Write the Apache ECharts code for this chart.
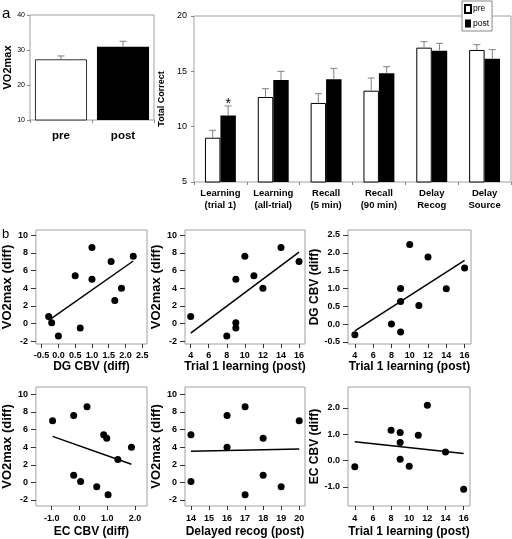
<!DOCTYPE html>
<html><head><meta charset="utf-8">
<script src="https://cdn.jsdelivr.net/npm/echarts@6/dist/echarts.min.js"></script>
<style>html,body{margin:0;padding:0;background:#fff}#c{width:512px;height:539px}</style>
</head><body><div id="c"></div><script>
// ---------- Data ----------
const vo2Groups = ['pre', 'post'];
const vo2Means = [27.35, 30.95];
const vo2ErrTop = [28.3, 32.5];

const memCategories = ['Learning\n(trial 1)', 'Learning\n(all-trial)', 'Recall\n(5 min)', 'Recall\n(90 min)', 'Delay\nRecog', 'Delay\nSource'];
const memPre = [9.0, 12.68, 12.14, 13.25, 17.14, 16.93];
const memPreErrTop = [9.67, 13.43, 12.98, 14.4, 17.68, 17.41];
const memPost = [11.02, 14.22, 14.28, 14.82, 16.87, 16.14];
const memPostErrTop = [11.87, 15.0, 15.27, 15.42, 17.53, 16.96];
const memSignif = ['*', '', '', '', '', ''];

const dgCbvDiff = [-0.29, -0.2, 0.0, 0.5, 0.65, 1.0, 1.0, 1.57, 1.68, 1.88, 2.23];
const vo2DiffByDg = [0.8, 0.1, -1.4, 5.4, -0.5, 8.6, 5.0, 7.0, 2.6, 4.0, 7.6];

const trial1Post = [4, 8, 9, 9, 9, 10, 11, 12, 14, 16];
const vo2DiffByTrial1 = [0.8, -1.4, 5.0, 0.1, -0.5, 7.6, 5.4, 4.0, 8.6, 7.0];
const dgCbvByTrial1 = [-0.3, 0.0, -0.22, 0.63, 1.0, 2.23, 0.52, 1.88, 0.99, 1.57];

const ecCbvDiff = [-0.97, -0.21, 0.27, -0.21, 0.04, 0.87, 0.98, 0.62, 1.03, 1.38, 1.87];
const vo2DiffByEc = [7.0, 7.6, 8.6, 0.8, 0.1, 5.4, 5.0, -0.5, -1.4, 2.6, 4.0];

const delayedRecogPost = [14, 14, 16, 16, 17, 17, 18, 18, 19, 20];
const vo2DiffByRecog = [5.4, 0.1, 7.6, 4.0, 8.6, -1.4, 5.0, 0.8, -0.5, 7.0];

const ecCbvByTrial1 = [-0.24, 1.15, 1.06, 0.68, 0.05, -0.22, 0.96, 2.1, 0.32, -1.09];

const ticksVo2 = [-2, 0, 2, 4, 6, 8, 10];
const ticksDg = [-0.5, 0, 0.5, 1, 1.5, 2, 2.5];
const ticksTrial = [4, 6, 8, 10, 12, 14, 16];
const ticksEc = [-1, 0, 1, 2];
const ticksRecog = [14, 15, 16, 17, 18, 19, 20];

// ---------- Styling ----------
const SANS = "'Liberation Sans', Arial, sans-serif";
const FRAME = '#a0a0a0';
const TICK = '#333';

const grids = [], xAxes = [], yAxes = [], series = [];

function linFit(xs, ys) {
  const n = xs.length;
  const mx = xs.reduce((a, b) => a + b, 0) / n, my = ys.reduce((a, b) => a + b, 0) / n;
  let sxy = 0, sxx = 0;
  for (let i = 0; i < n; i++) { sxy += (xs[i] - mx) * (ys[i] - my); sxx += (xs[i] - mx) * (xs[i] - mx); }
  const b = sxy / sxx, a = my - b * mx;
  const x0 = Math.min(...xs), x1 = Math.max(...xs);
  return [[x0, a + b * x0], [x1, a + b * x1]];
}

function errorSeries(axisIdx, means, tops, offsetFrac, marks) {
  return {
    type: 'custom', xAxisIndex: axisIdx, yAxisIndex: axisIdx, z: 5, silent: true,
    data: means.map((m, i) => [i, m, tops[i]]),
    renderItem(params, api) {
      const c = api.coord([api.value(0), api.value(1)]);
      const t = api.coord([api.value(0), api.value(2)]);
      const bw = api.size([1, 0])[0];
      const x = c[0] + bw * offsetFrac;
      const cap = 3.5;
      const st = { stroke: '#808080', lineWidth: 1 };
      const children = [
        { type: 'line', shape: { x1: x, y1: c[1], x2: x, y2: t[1] }, style: st },
        { type: 'line', shape: { x1: x - cap, y1: t[1], x2: x + cap, y2: t[1] }, style: st }
      ];
      const mk = marks ? marks[params.dataIndex] : '';
      if (mk) children.push({ type: 'text', x: x, y: t[1] - 2, style: { text: mk, fontSize: 14, fontFamily: SANS, align: 'center', verticalAlign: 'middle', fill: '#000' } });
      return { type: 'group', children };
    }
  };
}

function makeAxis(gi, dir, c) {
  return {
    type: 'value', gridIndex: gi, min: c.min, max: c.max,
    position: dir === 'x' ? 'bottom' : 'left',
    splitLine: { show: false }, axisLine: { show: false, onZero: false },
    axisTick: { show: true, length: dir === 'x' ? 4 : 5, lineStyle: { color: TICK }, customValues: c.ticks },
    axisLabel: {
      customValues: c.ticks, formatter: v => c.dec ? v.toFixed(c.dec) : String(v),
      fontSize: 9, fontWeight: 'bold', fontFamily: SANS, color: '#000', margin: c.margin
    },
    name: c.name, nameLocation: 'middle', nameGap: c.nameGap,
    nameTextStyle: dir === 'x'
      ? { fontSize: 12, fontWeight: 'bold', fontFamily: SANS, color: '#000' }
      : { fontSize: c.nameSize || 12.5, fontWeight: 'bold', fontFamily: SANS, color: '#000' }
  };
}

function addScatter(box, xs, ys, xc, yc) {
  const gi = grids.length;
  grids.push(Object.assign({ show: true, borderColor: FRAME, borderWidth: 1, backgroundColor: '#fff' }, box));
  xAxes.push(makeAxis(gi, 'x', xc));
  yAxes.push(makeAxis(gi, 'y', yc));
  const idx = xAxes.length - 1;
  series.push({ type: 'line', xAxisIndex: idx, yAxisIndex: idx, symbol: 'none', silent: true,
    lineStyle: { color: '#000', width: 1.5 }, data: linFit(xs, ys), z: 2 });
  series.push({ type: 'scatter', xAxisIndex: idx, yAxisIndex: idx, symbolSize: 7, silent: true,
    itemStyle: { color: '#000', opacity: 1 }, data: xs.map((x, i) => [x, ys[i]]), z: 3 });
}

// ---------- Panel a (left): VO2max ----------
grids.push({ left: 30, top: 15, width: 124, height: 105, show: true, borderColor: FRAME, borderWidth: 1 });
xAxes.push({ type: 'category', gridIndex: 0, data: vo2Groups, axisLine: { show: false, onZero: false },
  axisTick: { show: true, length: 3, lineStyle: { color: '#888' } },
  axisLabel: { fontSize: 11.5, fontWeight: 'bold', fontFamily: SANS, color: '#000', margin: 10 } });
yAxes.push({ type: 'value', gridIndex: 0, min: 10, max: 40, interval: 10, splitLine: { show: false },
  axisLine: { show: false, onZero: false }, axisTick: { show: true, length: 3, lineStyle: { color: '#888' } },
  axisLabel: { fontSize: 7, fontFamily: SANS, color: '#000', margin: 5 },
  name: 'VO2max', nameLocation: 'middle', nameGap: 17,
  nameTextStyle: { fontSize: 11, fontWeight: 'bold', fontFamily: SANS, color: '#000' } });
const vo2Styles = [{ color: '#fff', borderColor: '#333', borderWidth: 1 }, { color: '#000' }];
series.push({ type: 'bar', name: 'VO2max', xAxisIndex: 0, yAxisIndex: 0, barCategoryGap: '16%', silent: true,
  data: vo2Means.map((v, i) => ({ value: v, itemStyle: vo2Styles[i] })) });
series.push(errorSeries(0, vo2Means, vo2ErrTop, 0, null));

// ---------- Panel a (right): memory ----------
grids.push({ left: 194, top: 16, width: 317, height: 166, show: true, borderColor: FRAME, borderWidth: 1 });
xAxes.push({ type: 'category', gridIndex: 1, data: memCategories, axisLine: { show: false, onZero: false },
  axisTick: { show: true, length: 3, lineStyle: { color: '#888' } },
  axisLabel: { fontSize: 9.5, fontWeight: 'bold', fontFamily: SANS, color: '#000', margin: 5, lineHeight: 12.5, interval: 0 } });
yAxes.push({ type: 'value', gridIndex: 1, min: 5, max: 20, interval: 5, splitLine: { show: false },
  axisLine: { show: false, onZero: false }, axisTick: { show: true, length: 3, lineStyle: { color: '#888' } },
  axisLabel: { fontSize: 9, fontFamily: SANS, color: '#000', margin: 7 },
  name: 'Total Correct', nameLocation: 'middle', nameGap: 20,
  nameTextStyle: { fontSize: 9, fontWeight: 'bold', fontFamily: SANS, color: '#000' } });
const GAP = 0.415;
series.push({ type: 'bar', name: 'pre', xAxisIndex: 1, yAxisIndex: 1, barGap: '0%', barCategoryGap: (GAP * 100) + '%', silent: true,
  itemStyle: { color: '#fff', borderColor: '#000', borderWidth: 1 }, data: memPre });
series.push({ type: 'bar', name: 'post', xAxisIndex: 1, yAxisIndex: 1, barGap: '0%', barCategoryGap: (GAP * 100) + '%', silent: true,
  itemStyle: { color: '#000' }, data: memPost });
series.push(errorSeries(1, memPre, memPreErrTop, -(1 - GAP) / 4, null));
series.push(errorSeries(1, memPost, memPostErrTop, (1 - GAP) / 4, memSignif));

// ---------- Panel b: scatter plots ----------
addScatter({ left: 29, top: 230, width: 118, height: 114 }, dgCbvDiff, vo2DiffByDg,
  { min: -0.67, max: 2.64, ticks: ticksDg, dec: 1, margin: 7, name: 'DG CBV (diff)', nameGap: 17 },
  { min: -2.3, max: 10.57, ticks: ticksVo2, dec: 0, margin: 8, name: 'VO2max (diff)', nameGap: 15.5, nameSize: 13 });
addScatter({ left: 185, top: 230, width: 120, height: 114 }, trial1Post, vo2DiffByTrial1,
  { min: 3.37, max: 16.66, ticks: ticksTrial, dec: 0, margin: 7, name: 'Trial 1 learning (post)', nameGap: 17 },
  { min: -2.3, max: 10.57, ticks: ticksVo2, dec: 0, margin: 8, name: 'VO2max (diff)', nameGap: 15, nameSize: 13 });
addScatter({ left: 348, top: 230, width: 123, height: 114 }, trial1Post, dgCbvByTrial1,
  { min: 3.25, max: 16.7, ticks: ticksTrial, dec: 0, margin: 7, name: 'Trial 1 learning (post)', nameGap: 17 },
  { min: -0.56, max: 2.64, ticks: ticksDg, dec: 1, margin: 8, name: 'DG CBV (diff)', nameGap: 20.5, nameSize: 12 });
addScatter({ left: 29, top: 387, width: 118, height: 119 }, ecCbvDiff, vo2DiffByEc,
  { min: -1.57, max: 2.43, ticks: ticksEc, dec: 1, margin: 8, name: 'EC CBV (diff)', nameGap: 20 },
  { min: -2.68, max: 10.83, ticks: ticksVo2, dec: 0, margin: 8, name: 'VO2max (diff)', nameGap: 16, nameSize: 13 });
addScatter({ left: 185, top: 387, width: 120, height: 119 }, delayedRecogPost, vo2DiffByRecog,
  { min: 13.67, max: 20.32, ticks: ticksRecog, dec: 0, margin: 8, name: 'Delayed recog (post)', nameGap: 20 },
  { min: -2.68, max: 10.83, ticks: ticksVo2, dec: 0, margin: 8, name: 'VO2max (diff)', nameGap: 15, nameSize: 13 });
addScatter({ left: 348, top: 387, width: 122, height: 119 }, trial1Post, ecCbvByTrial1,
  { min: 3.25, max: 16.7, ticks: ticksTrial, dec: 0, margin: 8, name: 'Trial 1 learning (post)', nameGap: 20 },
  { min: -1.73, max: 2.79, ticks: ticksEc, dec: 1, margin: 8, name: 'EC CBV (diff)', nameGap: 22, nameSize: 12 });

const chart = echarts.init(document.getElementById('c'), null, { renderer: 'canvas' });
chart.setOption({
  animation: false,
  backgroundColor: '#fff',
  grid: grids, xAxis: xAxes, yAxis: yAxes, series: series,
  legend: {
    data: ['pre', 'post'], orient: 'vertical', left: 462, top: 1, icon: 'rect',
    itemWidth: 6, itemHeight: 8, itemGap: 5, padding: [3, 3, 3, 2], selectedMode: false,
    borderColor: '#888', borderWidth: 1, backgroundColor: '#fff',
    textStyle: { fontSize: 8.5, fontFamily: SANS, color: '#000', padding: [0, 0, 0, -3] }
  },
  graphic: [
    { type: 'text', left: 2, top: 6, style: { text: 'a', fontSize: 15, fontFamily: SANS, fill: '#000' } },
    { type: 'text', left: 2, top: 228, style: { text: 'b', fontSize: 13, fontFamily: SANS, fill: '#000' } }
  ]
});
</script></body></html>
